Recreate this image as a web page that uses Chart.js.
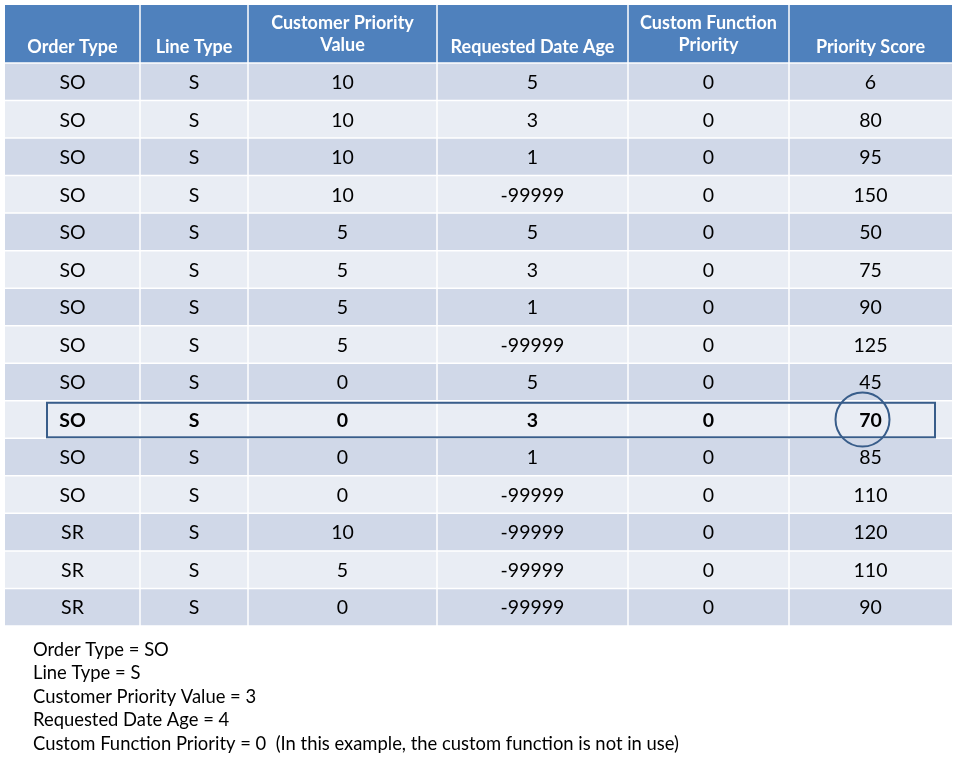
<!DOCTYPE html>
<html>
<head>
<meta charset="utf-8">
<script src="https://cdn.jsdelivr.net/npm/chart.js@4/dist/chart.umd.min.js"></script>
<style>
  html, body { margin: 0; padding: 0; background: #fff; }
  #wrap { width: 956px; height: 757px; }
</style>
</head>
<body>
<div id="wrap"><canvas id="tbl"></canvas></div>
<script>
// table data
var headers = [['Order Type'], ['Line Type'], ['Customer Priority', 'Value'], ['Requested Date Age'], ['Custom Function', 'Priority'], ['Priority Score']];
var orderType = ['SO','SO','SO','SO','SO','SO','SO','SO','SO','SO','SO','SO','SR','SR','SR'];
var lineType = ['S','S','S','S','S','S','S','S','S','S','S','S','S','S','S'];
var custPriority = [10,10,10,10,5,5,5,5,0,0,0,0,10,5,0];
var reqDateAge = [5,3,1,-99999,5,3,1,-99999,5,3,1,-99999,-99999,-99999,-99999];
var customFn = [0,0,0,0,0,0,0,0,0,0,0,0,0,0,0];
var priorityScore = [6,80,95,150,50,75,90,125,45,70,85,110,120,110,90];
var highlightRow = 9;
var notes = [
    'Order Type = SO',
    'Line Type = S',
    'Customer Priority Value = 3',
    'Requested Date Age = 4',
    'Custom Function Priority = 0  (In this example, the custom function is not in use)'
];

// layout (in scale units == page pixels)
var colEdges = [5, 140, 248, 437, 628, 789, 952];
var headTop = 5, headBottom = 63, rowH = 37.53;

var tablePlugin = {
    id: 'tablePlugin',
    afterDraw: function(chart){
        var ctx = chart.ctx;
        var xs = chart.scales.x, ys = chart.scales.y;
        var px = function(v){ return xs.getPixelForValue(v); };
        var py = function(v){ return ys.getPixelForValue(v); };
        var cols = [orderType, lineType, custPriority, reqDateAge, customFn, priorityScore];
        ctx.save();
        ctx.textAlign = 'center';
        ctx.textBaseline = 'middle';
        // header
        for (var c = 0; c < 6; c++) {
            ctx.fillStyle = '#4F81BD';
            ctx.fillRect(px(colEdges[c]), py(headTop), px(colEdges[c+1]) - px(colEdges[c]), py(headBottom) - py(headTop));
            ctx.fillStyle = '#fff';
            ctx.font = 'bold 18px Lato, "Open Sans", sans-serif';
            var cx = (px(colEdges[c]) + px(colEdges[c+1])) / 2;
            var h = headers[c];
            if (h.length == 1) {
                ctx.fillText(h[0], cx, py(47));
            } else {
                ctx.fillText(h[0], cx, py(23));
                ctx.fillText(h[1], cx, py(45));
            }
        }
        // body
        for (var r = 0; r < orderType.length; r++) {
            var top = headBottom + r * rowH;
            for (var c = 0; c < 6; c++) {
                ctx.fillStyle = (r % 2 == 0) ? '#D0D8E8' : '#E9EDF4';
                ctx.fillRect(px(colEdges[c]), py(top), px(colEdges[c+1]) - px(colEdges[c]), py(top + rowH) - py(top));
                ctx.fillStyle = '#000';
                ctx.font = (r == highlightRow ? 'bold ' : '') + '19.5px Lato, "Open Sans", sans-serif';
                ctx.fillText(String(cols[c][r]), (px(colEdges[c]) + px(colEdges[c+1])) / 2, py(top + rowH / 2 + 1));
            }
        }
        // white grid lines
        ctx.strokeStyle = '#fff';
        ctx.lineWidth = 1.5;
        for (var c = 1; c < 6; c++) {
            ctx.beginPath();
            ctx.moveTo(px(colEdges[c]), py(headTop));
            ctx.lineTo(px(colEdges[c]), py(headBottom + rowH * orderType.length));
            ctx.stroke();
        }
        for (var r = 0; r <= orderType.length; r++) {
            var y = headBottom + r * rowH;
            ctx.beginPath();
            ctx.moveTo(px(colEdges[0]), py(y));
            ctx.lineTo(px(colEdges[6]), py(y));
            ctx.stroke();
        }
        // highlight box and circle
        var hTop = headBottom + highlightRow * rowH;
        ctx.strokeStyle = '#385D8A';
        ctx.lineWidth = 2;
        ctx.strokeRect(px(47), py(hTop + 2), px(935) - px(47), py(hTop + rowH - 1) - py(hTop + 2));
        ctx.beginPath();
        ctx.arc((px(colEdges[5]) + px(colEdges[6])) / 2 - 8, py(hTop + rowH / 2), 27, 0, Math.PI * 2);
        ctx.stroke();
        // notes
        ctx.textAlign = 'left';
        ctx.fillStyle = '#000';
        ctx.font = '18.4px Lato, "Open Sans", sans-serif';
        for (var i = 0; i < notes.length; i++) {
            ctx.fillText(notes[i], px(33), py(650 + i * 23.5));
        }
        ctx.restore();
    }
};

var chart = new Chart(document.getElementById('tbl'), {
    type: 'scatter',
    data: { datasets: [{ data: [] }] },
    options: {
        responsive: true,
        maintainAspectRatio: false,
        animation: false,
        layout: { padding: 0 },
        plugins: { legend: { display: false }, tooltip: { enabled: false } },
        scales: {
            x: { type: 'linear', min: 0, max: 956, display: false },
            y: { type: 'linear', min: 0, max: 757, reverse: true, display: false }
        }
    },
    plugins: [tablePlugin]
});
</script>
</body>
</html>
